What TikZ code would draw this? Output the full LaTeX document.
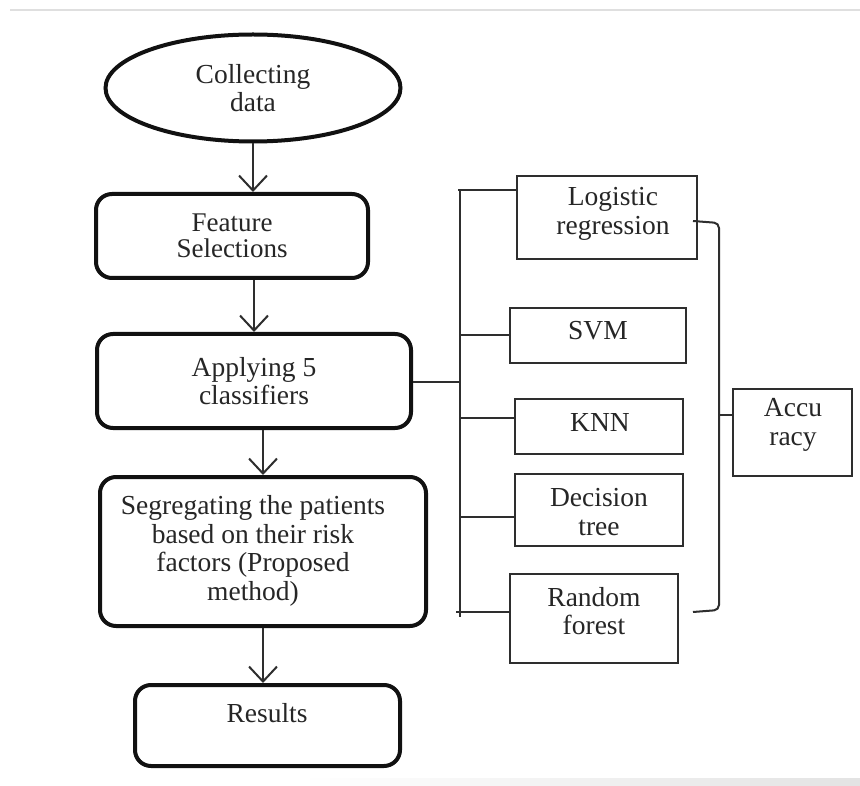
\documentclass[tikz,border=0pt]{standalone}
\usepackage{fontspec}
\setmainfont{Liberation Serif}
\usetikzlibrary{shapes.geometric,arrows.meta}
\definecolor{ink}{HTML}{111111}
\definecolor{thin}{HTML}{2E2E2E}
\definecolor{txt}{HTML}{262626}
\begin{document}
\begin{tikzpicture}[x=1pt,y=-1pt,
  txtfont/.style={font=\fontsize{27.5}{28.5}\selectfont, text=txt, align=center},
  bigbox/.style={draw=ink, line width=4pt, rounded corners=16pt, inner sep=0pt, txtfont},
  smallbox/.style={draw=thin, line width=2pt, inner sep=0pt, txtfont},
  conn/.style={draw=thin, line width=2pt},
  arr/.style={conn, -{Straight Barb[length=15pt,width=28pt]}}
]
\useasboundingbox (0,0) rectangle (860,786);
\fill[white] (0,0) rectangle (860,786);
\draw[gray!25, line width=1.5pt] (10,10) -- (860,10);
\shade[left color=white, right color=gray!22] (300,778) rectangle (860,786);

% left column
\node[ellipse, draw=ink, line width=4pt, minimum width=295pt, minimum height=107pt, inner sep=0pt, txtfont] (cd) at (253,88) {Collecting\\data};
\node[bigbox, minimum width=272pt, minimum height=84pt, font=\fontsize{27}{26}\selectfont] (fs) at (232,236) {Feature\\Selections};
\node[bigbox, minimum width=314pt, minimum height=94pt] (app) at (254,381) {Applying 5\\classifiers};
\node[bigbox, minimum width=326pt, minimum height=149pt] (seg) at (263,551.5) {};
\node[txtfont] (segtext) at (253,551) {Segregating the patients\\based on their risk\\factors (Proposed\\method)};
\node[bigbox, minimum width=265pt, minimum height=81pt] (res) at (267.5,725.5) {};
\node[txtfont] (restext) at (267,713) {Results};

\draw[arr] (cd.south) -- (cd.south |- fs.north);
\draw[arr] (app.north |- fs.south) -- (app.north);
\draw[arr] (seg.north |- app.south) -- (seg.north);
\draw[arr] (seg.south) -- (seg.south |- res.north);

% classifiers
\node[smallbox, minimum width=180pt, minimum height=83pt] (lr) at (607,217.5) {};
\node[txtfont] (lrtext) at (613,214) {Logistic\\regression};
\node[smallbox, minimum width=176pt, minimum height=55pt] (svm) at (598,335.5) {};
\node[txtfont] (svmtext) at (598,331) {SVM};
\node[smallbox, minimum width=168pt, minimum height=55pt] (knn) at (599,426.5) {};
\node[txtfont] (knntext) at (600,422) {KNN};
\node[smallbox, minimum width=168pt, minimum height=72pt] (dt) at (599,510) {};
\node[txtfont] (dttext) at (599,512) {Decision\\tree};
\node[smallbox, minimum width=168pt, minimum height=89pt] (rf) at (594,618.5) {};
\node[txtfont] (rftext) at (594,611) {Random\\forest};
\node[smallbox, minimum width=119pt, minimum height=87pt] (acc) at (792.5,432.5) {};
\node[txtfont] (acctext) at (793,425) {Accu\\racy};

% bus
\coordinate (bA) at (460,382);
\coordinate (bT) at (458,190);
\coordinate (bTop) at (460,190);
\coordinate (bBot) at (460,617);
\coordinate (b2) at (460,335);
\coordinate (b3) at (460,418);
\coordinate (b4) at (460,517);
\coordinate (b5) at (456,612);
\draw[conn] (app.east |- bA) -- (bA);
\draw[conn] (bTop) -- (bBot);
\draw[conn] (bT) -- (bT -| lr.west);
\draw[conn] (b2) -- (b2 -| svm.west);
\draw[conn] (b3) -- (b3 -| knn.west);
\draw[conn] (b4) -- (b4 -| dt.west);
\draw[conn] (b5) -- (b5 -| rf.west);

% bracket to accuracy
\coordinate (k1) at (693,221);
\coordinate (k2) at (719,223);
\coordinate (k3) at (719,610);
\coordinate (k4) at (693,612);
\coordinate (km) at (719,415);
\draw[conn, rounded corners=5pt] (k1) -- (k2) -- (k3) -- (k4);
\draw[conn] (km) -- (km -| acc.west);
\end{tikzpicture}
\end{document}
